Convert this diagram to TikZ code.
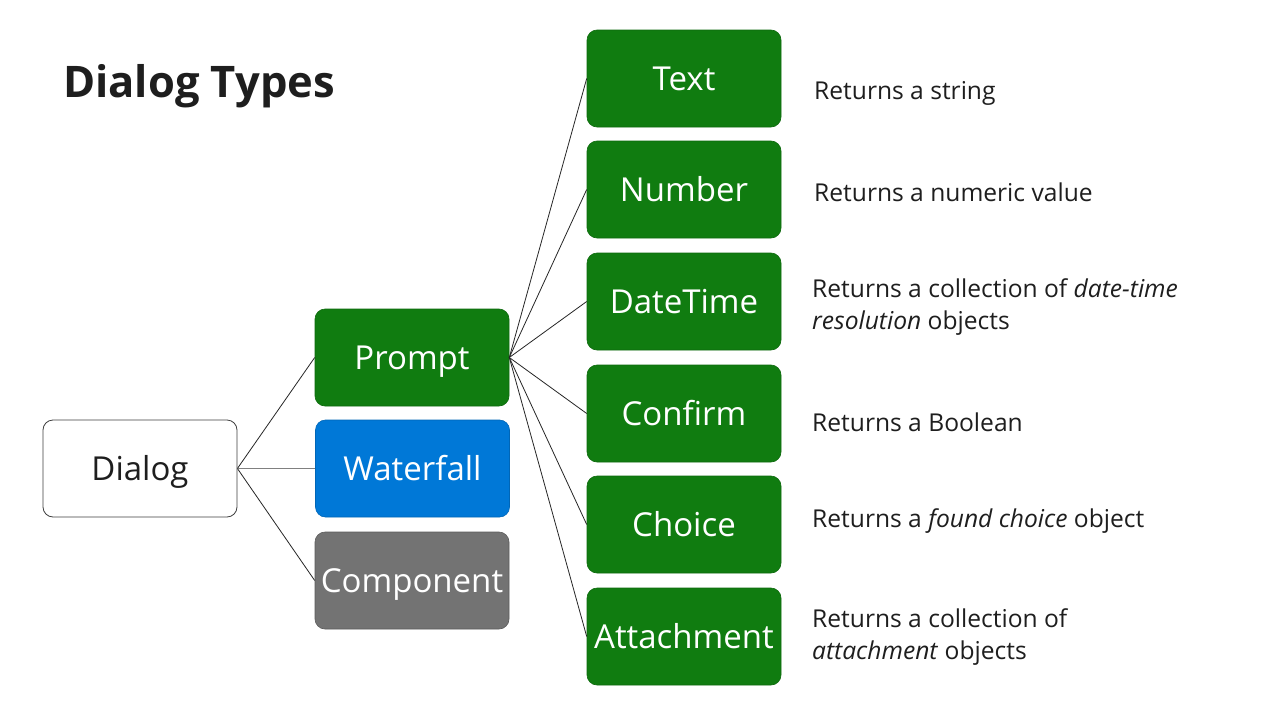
\documentclass[tikz,border=0pt]{standalone}
\usepackage{fontspec}
\setmainfont{Open Sans}
\definecolor{pgreen}{HTML}{107C10}
\definecolor{pgreenb}{HTML}{0E6A0E}
\definecolor{pblue}{HTML}{0078D7}
\definecolor{pgray}{HTML}{737373}
\definecolor{ptext}{HTML}{1E1E1E}
\begin{document}
\begin{tikzpicture}[x=1pt,y=-1pt,
  box/.style={rectangle, rounded corners=10pt, minimum width=194pt, minimum height=97pt, inner sep=0pt, text=white, font=\fontsize{33}{38}\selectfont, text height=23.6pt, text depth=0pt},
  greenbox/.style={box, fill=pgreen, draw=pgreenb, line width=0.6pt},
  desc/.style={anchor=west, align=left, inner sep=0pt, text=ptext, font=\fontsize{24.6}{32}\selectfont},
  conn/.style={draw=black!85, line width=0.8pt}
]
\useasboundingbox (0,0) rectangle (1280,720);
\fill[white] (0,0) rectangle (1280,720);

\node[anchor=base west, inner sep=0pt, text=ptext, font=\fontsize{43.5}{54}\selectfont\bfseries] (title) at (63,97) {Dialog Types};

\node[box, fill=white, draw=black!75, line width=0.8pt, text=ptext] (dialog) at (140,468.5) {Dialog};
\node[greenbox] (prompt) at (412,357.5) {Prompt};
\node[box, fill=pblue, draw=pblue!85!black, line width=0.6pt] (waterfall) at (412.5,468.5) {Waterfall};
\node[box, fill=pgray, draw=pgray!80!black, line width=0.6pt] (component) at (412,580.5) {Component};

\node[greenbox] (text) at (684,78.5) {Text};
\node[greenbox] (number) at (684,189.5) {Number};
\node[greenbox] (datetime) at (684,301.5) {DateTime};
\node[greenbox] (confirm) at (684,413.5) {Confirm};
\node[greenbox] (choice) at (684,524.5) {Choice};
\node[greenbox] (attachment) at (684,636.5) {Attachment};

\draw[conn] (dialog.east) -- (prompt.west);
\draw[draw=black!50, line width=0.9pt] (dialog.east) -- (waterfall.west);
\draw[conn] (dialog.east) -- (component.west);

\foreach \n in {text,number,datetime,confirm,choice,attachment}
  \draw[conn] (prompt.east) -- (\n.west);

\node[desc] (d1) at (814,93) {Returns a string};
\node[desc] (d2) at (814,192) {Returns a numeric value};
\node[desc] (d3) at (812,307) {Returns a collection of \textit{date-time}\\\textit{resolution} objects};
\node[desc] (d4) at (812,422) {Returns a Boolean};
\node[desc] (d5) at (812,521) {Returns a \textit{found choice} object};
\node[desc] (d6) at (812,637) {Returns a collection of\\\textit{attachment} objects};
\end{tikzpicture}
\end{document}
